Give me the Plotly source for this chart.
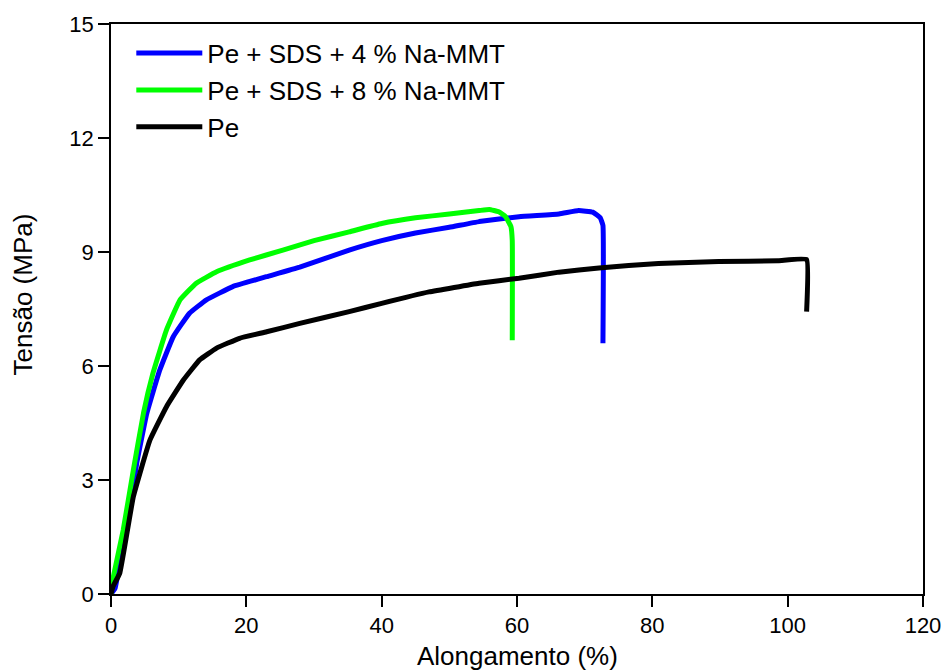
import plotly.graph_objects as go

# Pe + SDS + 4 % Na-MMT
x_4 = [0, 0.6, 1.3, 2.3, 3.8, 5.3, 7.2, 9.2, 11.6, 14.1, 18, 23, 27.9, 35.2, 40, 45, 50, 54.4, 60.3, 66.2, 69.1, 71.2, 72.3, 72.7, 72.7]
y_4 = [0, 0.15, 0.8, 1.68, 3.44, 4.76, 5.89, 6.77, 7.39, 7.74, 8.09, 8.35, 8.6, 9.05, 9.3, 9.5, 9.65, 9.8, 9.93, 10.0, 10.09, 10.05, 9.9, 9.7, 6.6]

# Pe + SDS + 8 % Na-MMT
x_8 = [0, 0.35, 1.8, 3.3, 4.8, 6.2, 8.2, 10.2, 12.6, 15.6, 20.5, 25.4, 30, 35.2, 40, 45, 50, 54.4, 55.9, 57.3, 58.3, 59.1, 59.3, 59.3]
y_8 = [0, 0.46, 1.68, 3.26, 4.76, 5.81, 6.95, 7.74, 8.18, 8.48, 8.79, 9.05, 9.3, 9.53, 9.75, 9.9, 10.0, 10.09, 10.12, 10.06, 9.93, 9.67, 9.3, 6.68]

# Pe
x_pe = [0, 0.3, 1.3, 3.3, 5.75, 8.2, 10.7, 13.1, 15.6, 19, 23, 27.9, 35.2, 40, 47, 54.4, 60.3, 66.2, 72.1, 80.9, 89.8, 98.6, 102.8, 102.8]
y_pe = [0, 0.2, 0.55, 2.56, 4.05, 4.93, 5.63, 6.16, 6.47, 6.73, 6.9, 7.12, 7.43, 7.65, 7.95, 8.18, 8.31, 8.47, 8.58, 8.70, 8.75, 8.77, 8.8, 7.43]

series = [
    ("Pe + SDS + 4 % Na-MMT", x_4, y_4, "#0000FF"),
    ("Pe + SDS + 8 % Na-MMT", x_8, y_8, "#00FF00"),
    ("Pe", x_pe, y_pe, "#000000"),
]

x_ticks = [0, 20, 40, 60, 80, 100, 120]
y_ticks = [0, 3, 6, 9, 12, 15]
x_title = "Alongamento (%)"
y_title = "Tensão (MPa)"

fig = go.Figure()
for i, (name, xs, ys, col) in enumerate(series):
    fig.add_trace(go.Scatter(x=xs, y=ys, mode="lines", name=name,
                             legendgroup=str(i),
                             line=dict(color=col, width=5, shape="spline", smoothing=0.3)))

font = "Liberation Sans, Arial, sans-serif"
axis_common = dict(showgrid=False, zeroline=False, showline=True, linecolor="black",
                   linewidth=1.5, mirror=True, ticks="outside", ticklen=11, tickwidth=1.5,
                   tickcolor="black", automargin=False,
                   tickfont=dict(family=font, size=22, color="black"))

fig.update_layout(
    width=943, height=671,
    margin=dict(l=111, r=20, t=24, b=77),
    paper_bgcolor="white", plot_bgcolor="white",
    font=dict(family=font, color="black"),
    xaxis=dict(range=[0, 120], tickvals=x_ticks, **axis_common),
    yaxis=dict(range=[0, 15], tickvals=y_ticks, **axis_common),
    legend=dict(x=0.025, y=0.99, xanchor="left", yanchor="top",
                font=dict(family=font, size=26), bgcolor="rgba(0,0,0,0)",
                itemwidth=66, tracegroupgap=0),
    showlegend=True,
    annotations=[
        dict(text=x_title, xref="paper", yref="paper", x=0.5, y=-0.109,
             xanchor="center", yanchor="middle", showarrow=False,
             font=dict(family=font, size=26, color="black")),
        dict(text=y_title, xref="paper", yref="paper", x=-0.108, y=0.526,
             xanchor="center", yanchor="middle", showarrow=False, textangle=-90,
             font=dict(family=font, size=26, color="black")),
    ],
)

fig.write_html("out.html", config={"displayModeBar": False},
               post_script="document.body.style.margin='0';document.body.style.overflow='hidden';")
